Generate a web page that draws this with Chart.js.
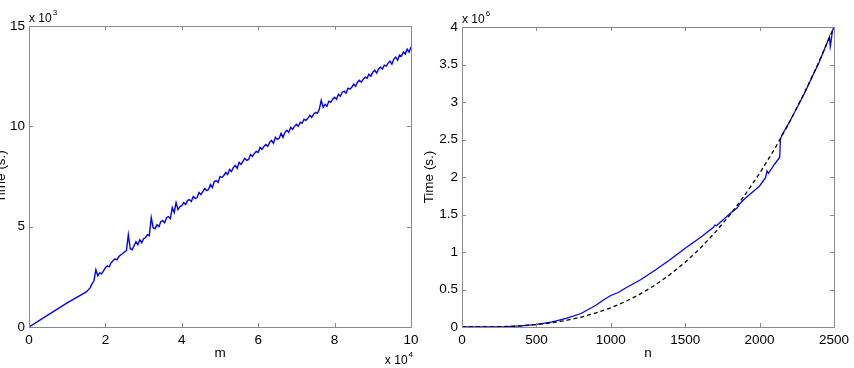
<!DOCTYPE html>
<html>
<head>
<meta charset="utf-8">
<script src="https://cdn.jsdelivr.net/npm/chart.js@4"></script>
<style>
  html, body { margin: 0; padding: 0; background: #fff; }
  body { width: 854px; height: 368px; position: relative; overflow: hidden; }
  .box { position: absolute; top: 0; height: 368px; }
  #leftBox { left: 0; width: 432px; }
  #rightBox { left: 410px; width: 444px; }
</style>
</head>
<body>
<div class="box" id="leftBox"><canvas id="leftChart"></canvas></div>
<div class="box" id="rightBox"><canvas id="rightChart"></canvas></div>
<script>
// left plot: m (in thousands) vs time (x 10^3 s.)
const mValues = [
  0, 5, 10, 15, 16, 16.5,
  17, 17.5, 18, 18.5, 19, 19.5, 20, 20.5, 21, 21.5,
  22, 22.5, 23, 23.5, 24, 24.5, 25, 25.5, 26, 26.5,
  27, 27.5, 28, 28.5, 29, 29.5, 30, 30.5, 31, 31.5,
  32, 32.5, 33, 33.5, 34, 34.5, 35, 35.5, 36, 36.5,
  37, 37.5, 38, 38.5, 39, 39.5, 40, 40.5, 41, 41.5,
  42, 42.5, 43, 43.5, 44, 44.5, 45, 45.5, 46, 46.5,
  47, 47.5, 48, 48.5, 49, 49.5, 50, 50.5, 51, 51.5,
  52, 52.5, 53, 53.5, 54, 54.5, 55, 55.5, 56, 56.5,
  57, 57.5, 58, 58.5, 59, 59.5, 60, 60.5, 61, 61.5,
  62, 62.5, 63, 63.5, 64, 64.5, 65, 65.5, 66, 66.5,
  67, 67.5, 68, 68.5, 69, 69.5, 70, 70.5, 71, 71.5,
  72, 72.5, 73, 73.5, 74, 74.5, 75, 75.5, 76, 76.5,
  77, 77.5, 78, 78.5, 79, 79.5, 80, 80.5, 81, 81.5,
  82, 82.5, 83, 83.5, 84, 84.5, 85, 85.5, 86, 86.5,
  87, 87.5, 88, 88.5, 89, 89.5, 90, 90.5, 91, 91.5,
  92, 92.5, 93, 93.5, 94, 94.5, 95, 95.5, 96, 96.5,
  97, 97.5, 98, 98.5, 99, 99.5, 100
];
const timeM = [
  0, 0.6, 1.2, 1.75, 1.95, 2.15,
  2.3, 2.85, 2.55, 2.7, 2.65, 2.8, 2.95, 3.05, 3.0, 3.2,
  3.3, 3.4, 3.35, 3.5, 3.6, 3.65, 3.75, 3.8, 4.6, 3.9,
  3.85, 4.05, 4.25, 4.1, 4.35, 4.2, 4.4, 4.45, 4.6, 4.55,
  5.45, 4.95, 4.9, 5.1, 5.0, 5.25, 5.3, 5.2, 5.45, 5.5,
  5.4, 5.95, 5.7, 6.2, 5.85, 6.0, 6.05, 6.2, 6.1, 6.3,
  6.35, 6.25, 6.5, 6.4, 6.45, 6.7, 6.6, 6.75, 6.9, 6.8,
  6.85, 7.1, 6.95, 7.25, 7.3, 7.2, 7.5, 7.45, 7.55, 7.7,
  7.6, 7.85, 7.75, 7.95, 8.05, 7.9, 8.2, 8.1, 8.25, 8.4,
  8.3, 8.35, 8.6, 8.5, 8.65, 8.75, 8.7, 8.95, 8.85, 9.0,
  9.1, 9.0, 9.2, 9.3, 9.15, 9.45, 9.35, 9.4, 9.65, 9.45,
  9.7, 9.8, 9.7, 9.95, 9.85, 10.0, 10.1, 10.0, 10.2, 10.15,
  10.35, 10.3, 10.4, 10.55, 10.45, 10.6, 10.7, 10.65, 10.85, 11.3,
  10.95, 11.1, 11.0, 11.25, 11.2, 11.35, 11.45, 11.35, 11.6, 11.5,
  11.7, 11.75, 11.65, 11.9, 11.85, 11.95, 12.1, 12.0, 12.2, 12.3,
  12.2, 12.35, 12.45, 12.4, 12.6, 12.5, 12.7, 12.8, 12.65, 12.85,
  12.95, 12.85, 13.05, 13.0, 13.15, 13.25, 13.1, 13.35, 13.45, 13.3,
  13.55, 13.5, 13.7, 13.6, 13.85, 13.7, 13.95
];
const mTickLabels = ['0', '2', '4', '6', '8', '10'];
const timeMTickLabels = ['0', '5', '10', '15'];

// right plot: n vs time (x 10^6 s.), measured and fitted
const nValues = [
  0, 100, 200, 300, 400, 500, 600, 700, 800, 900, 950, 1000, 1050, 1100,
  1200, 1300, 1400, 1500, 1600, 1690, 1700, 1710, 1800, 1850, 1860, 1870,
  1880, 1900, 2000, 2040, 2050, 2060, 2070, 2100, 2135, 2140, 2150, 2200,
  2300, 2400, 2460, 2470, 2475, 2480, 2490, 2500
];
const timeN = [
  0, 0, 0.001, 0.005, 0.015, 0.035, 0.065, 0.115, 0.18, 0.29, 0.36, 0.42, 0.46, 0.52,
  0.63, 0.76, 0.9, 1.05, 1.19, 1.33, 1.36, 1.35, 1.51, 1.59, 1.62, 1.65,
  1.67, 1.71, 1.88, 1.99, 2.08, 2.05, 2.08, 2.17, 2.26, 2.5, 2.56, 2.73,
  3.11, 3.53, 3.82, 3.87, 3.74, 3.8, 3.95, 4.0
];
const fitN = [0, 100, 200, 300, 400, 500, 600, 700, 800, 900, 1000, 1100, 1200,
  1300, 1400, 1500, 1600, 1700, 1800, 1900, 2000, 2100, 2200, 2300, 2400, 2500];
const fitTime = [0, 0.0003, 0.002, 0.007, 0.016, 0.032, 0.055, 0.088, 0.131, 0.187, 0.256,
  0.341, 0.442, 0.562, 0.702, 0.864, 1.048, 1.258, 1.493, 1.756, 2.048, 2.371,
  2.726, 3.115, 3.539, 4.0];
const nTickLabels = ['0', '500', '1000', '1500', '2000', '2500'];
const timeNTickLabels = ['0', '0.5', '1', '1.5', '2', '2.5', '3', '3.5', '4'];

const FONT = 'Liberation Sans, Arial, sans-serif';
const AXIS_GRAY = '#8a8a8a';

function toPoints(xs, ys) {
  return xs.map((x, i) => ({ x: x, y: ys[i] }));
}

// matlab style box with inward ticks and text labels
const matlabAxes = {
  id: 'matlabAxes',
  afterDatasetsDraw(chart, args, opts) {
    const ctx = chart.ctx;
    const a = chart.chartArea;
    const xs = chart.scales.x, ys = chart.scales.y;
    ctx.save();
    ctx.strokeStyle = AXIS_GRAY;
    ctx.lineWidth = 1;
    ctx.strokeRect(Math.round(a.left) + 0.5, Math.round(a.top) + 0.5,
      Math.round(a.right - a.left), Math.round(a.bottom - a.top));
    ctx.beginPath();
    xs.ticks.forEach(t => {
      const px = Math.round(xs.getPixelForValue(t.value)) + 0.5;
      ctx.moveTo(px, a.bottom); ctx.lineTo(px, a.bottom - 4);
      ctx.moveTo(px, a.top); ctx.lineTo(px, a.top + 4);
    });
    ys.ticks.forEach(t => {
      const py = Math.round(ys.getPixelForValue(t.value)) + 0.5;
      ctx.moveTo(a.left, py); ctx.lineTo(a.left + 4, py);
      ctx.moveTo(a.right, py); ctx.lineTo(a.right - 4, py);
    });
    ctx.stroke();

    ctx.fillStyle = '#000';
    // exponent above the y axis
    ctx.font = '12px ' + FONT;
    ctx.textAlign = 'left';
    ctx.textBaseline = 'alphabetic';
    const base = 'x 10';
    const bw = ctx.measureText(base).width;
    ctx.fillText(base, a.left, a.top - 4);
    ctx.font = '8px ' + FONT;
    ctx.fillText(opts.yExp, a.left + bw + 1, a.top - 11);
    // exponent below the x axis
    if (opts.xExp) {
      ctx.font = '8px ' + FONT;
      const ew = ctx.measureText(opts.xExp).width;
      ctx.font = '12px ' + FONT;
      const right = a.right + 2;
      ctx.fillText(base, right - ew - 1 - bw, 364);
      ctx.font = '8px ' + FONT;
      ctx.fillText(opts.xExp, right - ew, 357);
    }
    // axis titles
    ctx.font = '13.5px ' + FONT;
    ctx.textAlign = 'center';
    ctx.textBaseline = 'middle';
    ctx.fillText(opts.xTitle, (a.left + a.right) / 2, 353);
    ctx.save();
    ctx.translate(opts.yTitleX, (a.top + a.bottom) / 2);
    ctx.rotate(-Math.PI / 2);
    ctx.fillText('Time (s.)', 0, 0);
    ctx.restore();
    ctx.restore();
  }
};

function makeChart(id, datasets, xCfg, yCfg, pad, yWidth, plugOpts) {
  return new Chart(document.getElementById(id), {
    type: 'line',
    data: { datasets: datasets },
    options: {
      responsive: true,
      maintainAspectRatio: false,
      animation: false,
      events: [],
      layout: { autoPadding: false, padding: pad },
      plugins: { legend: { display: false }, tooltip: { enabled: false }, matlabAxes: plugOpts },
      elements: { point: { radius: 0 }, line: { tension: 0 } },
      scales: {
        x: {
          type: 'linear', min: xCfg.min, max: xCfg.max,
          afterFit: s => { s.height = 41; },
          afterBuildTicks: s => { s.ticks = xCfg.labels.map((l, i) => ({ value: xCfg.min + i * xCfg.step })); },
          grid: { display: false, drawTicks: false },
          border: { display: false },
          ticks: {
            padding: 5, color: '#000', maxRotation: 0, autoSkip: false,
            font: { family: FONT, size: 13.5 },
            callback: (v, i) => xCfg.labels[i]
          }
        },
        y: {
          type: 'linear', min: yCfg.min, max: yCfg.max,
          afterFit: s => { s.width = yWidth; },
          afterBuildTicks: s => { s.ticks = yCfg.labels.map((l, i) => ({ value: yCfg.min + i * yCfg.step })); },
          grid: { display: false, drawTicks: false },
          border: { display: false },
          ticks: {
            padding: 4, color: '#000', autoSkip: false,
            font: { family: FONT, size: 13.5 },
            callback: (v, i) => yCfg.labels[i]
          }
        }
      }
    },
    plugins: [matlabAxes]
  });
}

makeChart('leftChart',
  [{ data: toPoints(mValues, timeM), borderColor: '#0000ff', borderWidth: 1.4 }],
  { min: 0, max: 100, step: 20, labels: mTickLabels },
  { min: 0, max: 15, step: 5, labels: timeMTickLabels },
  { left: 0, right: 21, top: 26, bottom: 0 }, 29,
  { yExp: '3', xExp: '4', xTitle: 'm', yTitleX: 1 });

makeChart('rightChart',
  [
    { data: toPoints(fitN, fitTime), borderColor: '#000000', borderWidth: 1.3, borderDash: [4, 3] },
    { data: toPoints(nValues, timeN), borderColor: '#0000ff', borderWidth: 1.3 }
  ],
  { min: 0, max: 2500, step: 500, labels: nTickLabels },
  { min: 0, max: 4, step: 0.5, labels: timeNTickLabels },
  { left: 0, right: 11, top: 27, bottom: 0 }, 52,
  { yExp: '6', xExp: null, xTitle: 'n', yTitleX: 19 });
</script>
</body>
</html>
